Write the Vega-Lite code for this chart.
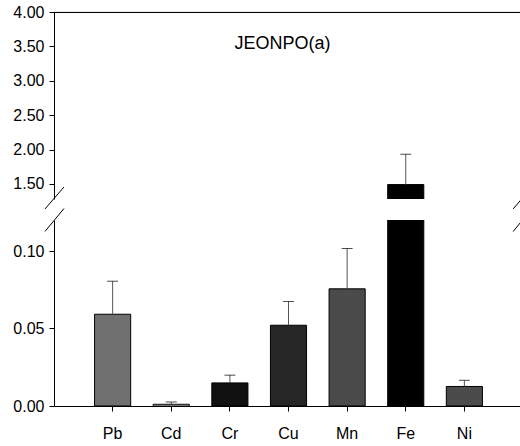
{
  "$schema": "https://vega.github.io/schema/vega-lite/v6.json",
  "padding": {"left": 12, "top": 4, "right": 0, "bottom": 0},
  "background": "white",
  "config": {
    "view": {"stroke": null},
    "font": "Liberation Sans",
    "axis": {
      "domainColor": "black", "tickColor": "black", "labelColor": "black",
      "labelFont": "Liberation Sans", "labelFontSize": 16, "tickSize": 5,
      "grid": false, "domainWidth": 1, "tickWidth": 1, "labelOverlap": false
    }
  },
  "datasets": {
    "metals": [
      {"element": "Pb", "mean": 0.0592, "upper": 0.0805},
      {"element": "Cd", "mean": 0.0011, "upper": 0.0026},
      {"element": "Cr", "mean": 0.0149, "upper": 0.0199},
      {"element": "Cu", "mean": 0.0521, "upper": 0.0674},
      {"element": "Mn", "mean": 0.0756, "upper": 0.1016},
      {"element": "Fe", "mean": 1.49, "upper": 1.931},
      {"element": "Ni", "mean": 0.0126, "upper": 0.0166}
    ]
  },
  "spacing": 21,
  "bounds": "flush",
  "vconcat": [
    {
      "width": 469,
      "height": 187,
      "resolve": {"scale": {"x": "independent"}, "axis": {"x": "independent"}},
      "layer": [
        {
          "data": {"name": "metals"},
          "encoding": {
            "x": {
              "field": "element", "type": "nominal", "sort": null,
              "scale": {"domain": ["Pb", "Cd", "Cr", "Cu", "Mn", "Fe", "Ni"], "paddingInner": 0.384, "paddingOuter": 0.692},
              "axis": null
            }
          },
          "layer": [
            {
              "mark": {"type": "bar", "clip": true, "stroke": "black", "strokeWidth": 1},
              "encoding": {
                "y": {"field": "mean", "type": "quantitative",
                  "scale": {"domain": [1.28, 4], "nice": false, "zero": false},
                  "axis": {"values": [1.5, 2, 2.5, 3, 3.5, 4], "tickCount": 12, "format": ".2f", "title": null, "labelPadding": 5, "labelOverlap": false}},
                "y2": {"datum": 0},
                "color": {"field": "element", "type": "nominal",
                  "scale": {"domain": ["Pb", "Cd", "Cr", "Cu", "Mn", "Fe", "Ni"],
                    "range": ["#707070", "#e6e6e6", "#111111", "#262626", "#4b4b4b", "#000000", "#4b4b4b"]},
                  "legend": null}
              }
            },
            {
              "mark": {"type": "rule", "clip": true, "color": "#555555", "strokeWidth": 1},
              "encoding": {
                "y": {"field": "mean", "type": "quantitative"},
                "y2": {"field": "upper"}
              }
            },
            {
              "mark": {"type": "tick", "clip": true, "color": "black", "thickness": 1, "size": 11, "orient": "horizontal"},
              "encoding": {
                "y": {"field": "upper", "type": "quantitative"}
              }
            }
          ]
        },
        {
          "data": {"values": [{}]},
          "layer": [
            {
              "mark": {"type": "rule", "color": "black", "strokeWidth": 1},
              "encoding": {
                "x": {"datum": -0.0192, "type": "quantitative", "scale": {"domain": [0, 1], "nice": false, "zero": false},
                  "axis": {"orient": "top", "title": null, "labels": false, "ticks": false, "domain": true, "domainColor": "black", "domainWidth": 1}},
                "x2": {"datum": 0.0213},
                "y": {"datum": 1.135, "type": "quantitative"},
                "y2": {"datum": 1.455}
              }
            },
            {
              "mark": {"type": "rule", "color": "black", "strokeWidth": 1},
              "encoding": {
                "x": {"datum": 0.979, "type": "quantitative"},
                "x2": {"datum": 1.019},
                "y": {"datum": 1.135, "type": "quantitative"},
                "y2": {"datum": 1.455}
              }
            },
            {
              "mark": {"type": "rule", "color": "black", "strokeWidth": 1},
              "encoding": {
                "y": {"datum": 3.994, "type": "quantitative"}
              }
            },
            {
              "mark": {"type": "text", "text": "JEONPO(a)", "font": "Liberation Sans", "fontSize": 18, "align": "center", "baseline": "middle", "color": "black"},
              "encoding": {
                "x": {"datum": 0.487, "type": "quantitative"},
                "y": {"datum": 3.53, "type": "quantitative"}
              }
            }
          ]
        }
      ]
    },
    {
      "width": 469,
      "height": 186,
      "resolve": {"scale": {"x": "independent"}, "axis": {"x": "independent"}},
      "layer": [
        {
          "data": {"name": "metals"},
          "encoding": {
            "x": {
              "field": "element", "type": "nominal", "sort": null,
              "scale": {"domain": ["Pb", "Cd", "Cr", "Cu", "Mn", "Fe", "Ni"], "paddingInner": 0.384, "paddingOuter": 0.692},
              "axis": {"orient": "bottom", "title": null, "labelAngle": 0, "labelPadding": 14}
            }
          },
          "layer": [
            {
              "mark": {"type": "bar", "clip": true, "stroke": "black", "strokeWidth": 1},
              "encoding": {
                "y": {"field": "mean", "type": "quantitative",
                  "scale": {"domain": [0, 0.12], "nice": false},
                  "axis": {"values": [0, 0.05, 0.1], "format": ".2f", "title": null, "labelPadding": 5}},
                "y2": {"datum": 0},
                "color": {"field": "element", "type": "nominal",
                  "scale": {"domain": ["Pb", "Cd", "Cr", "Cu", "Mn", "Fe", "Ni"],
                    "range": ["#707070", "#e6e6e6", "#111111", "#262626", "#4b4b4b", "#000000", "#4b4b4b"]},
                  "legend": null}
              }
            },
            {
              "mark": {"type": "rule", "clip": true, "color": "#555555", "strokeWidth": 1},
              "encoding": {
                "y": {"field": "mean", "type": "quantitative"},
                "y2": {"field": "upper"}
              }
            },
            {
              "mark": {"type": "tick", "clip": true, "color": "black", "thickness": 1, "size": 11, "orient": "horizontal"},
              "encoding": {
                "y": {"field": "upper", "type": "quantitative"}
              }
            }
          ]
        },
        {
          "data": {"values": [{}]},
          "layer": [
            {
              "mark": {"type": "rule", "color": "black", "strokeWidth": 1},
              "encoding": {
                "x": {"datum": -0.0192, "type": "quantitative", "scale": {"domain": [0, 1], "nice": false, "zero": false}, "axis": null},
                "x2": {"datum": 0.0213},
                "y": {"datum": 0.1126, "type": "quantitative"},
                "y2": {"datum": 0.1274}
              }
            },
            {
              "mark": {"type": "rule", "color": "black", "strokeWidth": 1},
              "encoding": {
                "x": {"datum": 0.979, "type": "quantitative"},
                "x2": {"datum": 1.019},
                "y": {"datum": 0.1126, "type": "quantitative"},
                "y2": {"datum": 0.1274}
              }
            }
          ]
        }
      ]
    }
  ]
}
